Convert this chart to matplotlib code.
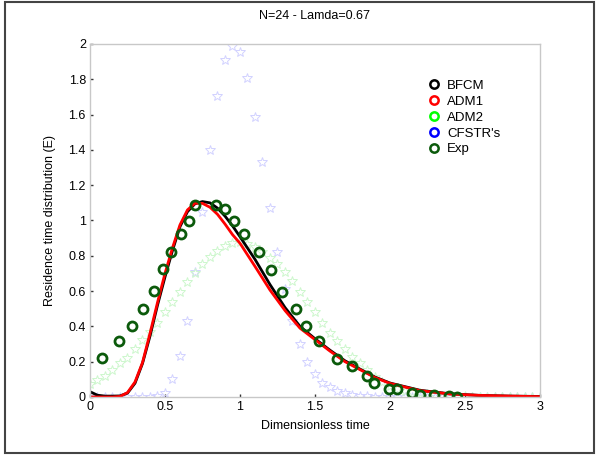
import matplotlib
matplotlib.use("Agg")
from matplotlib import pyplot as plt
from matplotlib.patches import Rectangle

plt.rcParams['font.family'] = ['Liberation Sans', 'DejaVu Sans']

# BFCM / ADM1 model curves
x_model = [0, 0.05, 0.1, 0.15, 0.2, 0.25, 0.3, 0.35, 0.4, 0.45, 0.5, 0.55, 0.6,
           0.65, 0.7, 0.75, 0.8, 0.85, 0.9, 0.95, 1.0, 1.1, 1.2, 1.3, 1.4, 1.5,
           1.6, 1.7, 1.8, 1.9, 2.0, 2.2, 2.4, 2.6, 2.8, 3.0]
bfcm = [0.03, 0.01, 0.005, 0.005, 0.006, 0.022, 0.078, 0.19, 0.345, 0.52, 0.68,
        0.83, 0.965, 1.05, 1.095, 1.107, 1.10, 1.07, 1.025, 0.97, 0.908, 0.78,
        0.637, 0.507, 0.40, 0.33, 0.265, 0.205, 0.158, 0.113, 0.079, 0.038,
        0.018, 0.009, 0.005, 0.003]
adm1 = [0.0, 0.0, 0.0, 0.0, 0.003, 0.025, 0.085, 0.195, 0.36, 0.535, 0.70,
        0.845, 0.975, 1.06, 1.098, 1.097, 1.075, 1.035, 0.98, 0.92, 0.871, 0.74,
        0.606, 0.49, 0.39, 0.325, 0.26, 0.20, 0.155, 0.11, 0.077, 0.036, 0.017,
        0.009, 0.005, 0.002]

# ADM2 and CFSTR's, sampled every 0.05
x_stars = [i * 0.05 for i in range(61)]
adm2 = [0.074, 0.096, 0.121, 0.153, 0.19, 0.223, 0.272, 0.323, 0.37, 0.421,
        0.483, 0.536, 0.593, 0.653, 0.704, 0.753, 0.795, 0.829, 0.856, 0.871,
        0.876, 0.867, 0.848, 0.823, 0.786, 0.753, 0.708, 0.658, 0.597, 0.538,
        0.483, 0.422, 0.364, 0.317, 0.27, 0.228, 0.19, 0.153, 0.115, 0.087,
        0.062, 0.047, 0.035, 0.026, 0.02, 0.015, 0.011, 0.008, 0.006, 0.004,
        0.003, 0.002, 0.002, 0.001, 0.001, 0.001, 0.001, 0.001, 0.001, 0.001,
        0.001]
cfstr = [0, 0, 0, 0, 0, 0, 0, 0, 0.001, 0.005, 0.02, 0.10, 0.23, 0.43, 0.71,
         1.05, 1.40, 1.705, 1.91, 1.99, 1.955, 1.81, 1.586, 1.33, 1.07, 0.82,
         0.61, 0.43, 0.30, 0.20, 0.13, 0.081, 0.055, 0.034, 0.022, 0.011,
         0.006, 0.003, 0.001, 0, 0, 0, 0, 0, 0, 0, 0, 0, 0, 0, 0, 0, 0, 0, 0,
         0, 0, 0, 0, 0, 0]

# experimental points
x_exp = [0.078, 0.193, 0.277, 0.355, 0.426, 0.484, 0.543, 0.605, 0.661, 0.703,
         0.838, 0.903, 0.96, 1.025, 1.125, 1.205, 1.28, 1.375, 1.44, 1.526,
         1.644, 1.744, 1.844, 1.893, 1.993, 2.044, 2.149, 2.2, 2.295, 2.395,
         2.444]
e_exp = [0.219, 0.317, 0.402, 0.499, 0.60, 0.723, 0.82, 0.925, 0.995, 1.088,
         1.088, 1.063, 0.997, 0.922, 0.82, 0.72, 0.597, 0.499, 0.402, 0.317,
         0.217, 0.177, 0.119, 0.078, 0.045, 0.047, 0.024, 0.013, 0.011, 0.006,
         0.0]


def plot_rtd():
    fig = plt.figure(figsize=(5.96, 4.55), dpi=100)
    ax = fig.add_axes([0.151, 0.1275, 0.755, 0.7758])

    ax.plot(x_stars, cfstr, linestyle="none", marker="*", markersize=7,
            markerfacecolor="none", markeredgecolor="#d2d2ff", markeredgewidth=0.7)
    ax.plot(x_stars, adm2, linestyle="none", marker="*", markersize=7,
            markerfacecolor="none", markeredgecolor="#cdf7cd", markeredgewidth=0.7)
    ax.plot(x_model, bfcm, color="black", linewidth=2)
    ax.plot(x_model, adm1, color="red", linewidth=2)
    ax.plot(x_exp, e_exp, linestyle="none", marker="o", markersize=6.5,
            markerfacecolor="none", markeredgecolor="#0b5a0b", markeredgewidth=2)

    # legend shows circles for every series
    handles = []
    for lab, col in [("BFCM", "black"), ("ADM1", "red"), ("ADM2", "#00ff00"),
                     ("CFSTR's", "blue"), ("Exp", "#0b5a0b")]:
        h, = ax.plot([], [], linestyle="none", marker="o", markersize=6,
                     markerfacecolor="none", markeredgecolor=col,
                     markeredgewidth=1.8, label=lab)
        handles.append(h)
    ax.legend(handles=handles, loc="upper left", bbox_to_anchor=(0.735, 0.918),
              frameon=False, fontsize=9.5, handlelength=1.0, handletextpad=0.5,
              labelspacing=0.28, borderpad=0)

    ax.set_xlim(0, 3)
    ax.set_ylim(0, 2)
    ax.set_xticks([0, 0.5, 1, 1.5, 2, 2.5, 3])
    ax.set_xticklabels(["0", "0.5", "1", "1.5", "2", "2.5", "3"])
    ax.set_yticks([0, 0.2, 0.4, 0.6, 0.8, 1, 1.2, 1.4, 1.6, 1.8, 2])
    ax.set_yticklabels(["0", "0.2", "0.4", "0.6", "0.8", "1", "1.2", "1.4",
                        "1.6", "1.8", "2"])
    ax.tick_params(direction="in", length=2, width=1, color="#333333",
                   labelsize=9, pad=3)
    for s in ax.spines.values():
        s.set_color("#c8c8c8")
        s.set_linewidth(1)

    ax.set_title("N=24 - Lamda=0.67", fontsize=9, pad=18)
    ax.set_xlabel("Dimensionless time", fontsize=9, labelpad=5)
    ax.set_ylabel("Residence time distribution (E)", fontsize=9, labelpad=9)

    fig.patches.append(Rectangle((5 / 596, 2 / 455), 589 / 596, 451 / 455,
                                 transform=fig.transFigure, fill=False,
                                 edgecolor="#444444", linewidth=1.5))
    fig.savefig("out.png", dpi=100)


if __name__ == "__main__":
    plot_rtd()
